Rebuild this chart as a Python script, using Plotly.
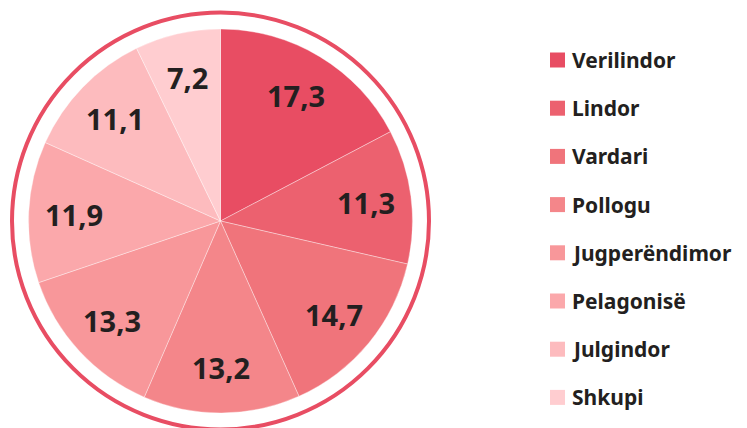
import math
import plotly.graph_objects as go

regions = ["Verilindor", "Lindor", "Vardari", "Pollogu", "Jugperëndimor",
           "Pelagonisë", "Julgindor", "Shkupi"]
values = [17.3, 11.3, 14.7, 13.2, 13.3, 11.9, 11.1, 7.2]
value_labels = ["17,3", "11,3", "14,7", "13,2", "13,3", "11,9", "11,1", "7,2"]
colors = ["#E84D63", "#EC616F", "#F0747B", "#F4868A", "#F8979A",
          "#FBA8AB", "#FDBBBE", "#FFCDD0"]

W, H = 747, 428
OFF = 8  # page body margin
cx, cy, R = 220.5, 221.0, 192.0
ring_r = 208.5
FONT = "Noto Sans"
TXT = "#231F20"


def px2x(px):
    return (px - OFF) / W


def py2y(py):
    return 1 - (py - OFF) / H


fig = go.Figure()
fig.add_trace(go.Pie(
    labels=regions, values=values, sort=False, direction="clockwise",
    rotation=0, textinfo="none", hoverinfo="label+value",
    marker=dict(colors=colors, line=dict(color="rgba(255,255,255,0.6)", width=0.6)),
    domain=dict(x=[px2x(cx - R), px2x(cx + R)], y=[py2y(cy + R), py2y(cy - R)]),
    showlegend=False,
))

annotations = []
shapes = []
total = sum(values)
cum = 0.0
for v, lab in zip(values, value_labels):
    f = (cum + v / 2) / total
    cum += v
    th = 2 * math.pi * f
    r = 0.765 * R
    px = cx + r * math.sin(th)
    py = cy - r * math.cos(th)
    annotations.append(dict(x=px2x(px), y=py2y(py), xref="paper", yref="paper",
                            xanchor="center", yanchor="middle",
                            text=lab, showarrow=False,
                            font=dict(family=FONT, size=29, color=TXT, weight="bold")))

shapes.append(dict(type="circle", xref="paper", yref="paper",
                   x0=px2x(cx - ring_r), x1=px2x(cx + ring_r),
                   y0=py2y(cy + ring_r), y1=py2y(cy - ring_r),
                   line=dict(color="#E84D63", width=4)))

# manual legend
lx0, lsz, ly0, ldy = 550, 15, 60, 48.2
for i, (name, c) in enumerate(zip(regions, colors)):
    yc = ly0 + ldy * i
    shapes.append(dict(type="rect", xref="paper", yref="paper",
                       x0=px2x(lx0), x1=px2x(lx0 + lsz),
                       y0=py2y(yc + lsz / 2), y1=py2y(yc - lsz / 2),
                       fillcolor=c, line=dict(width=0)))
    annotations.append(dict(x=px2x(lx0 + lsz + 5), y=py2y(yc), xref="paper", yref="paper",
                            xanchor="left", yanchor="middle", text=name, showarrow=False,
                            font=dict(family=FONT, size=21, color=TXT, weight="bold")))

fig.update_layout(width=W, height=H, margin=dict(l=0, r=0, t=0, b=0),
                  paper_bgcolor="white", plot_bgcolor="white",
                  annotations=annotations, shapes=shapes)
fig.write_html("out.html")
